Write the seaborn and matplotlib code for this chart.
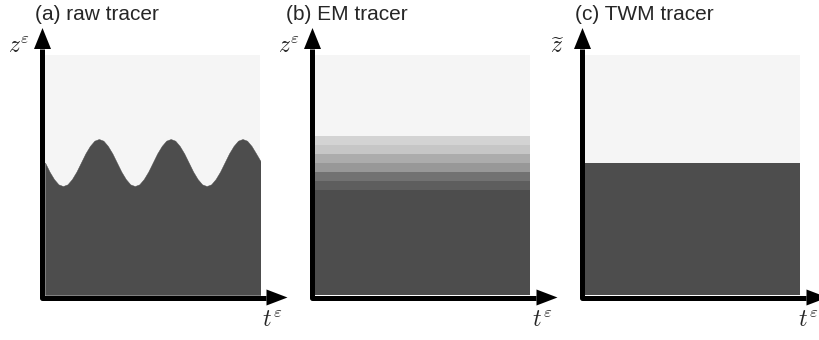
import numpy as np
import matplotlib
matplotlib.use("Agg")
import matplotlib.pyplot as plt
from matplotlib.patches import Polygon
import seaborn as sns

# ---------------- data ----------------
titles = ["(a) raw tracer", "(b) EM tracer", "(c) TWM tracer"]
ylabels = [r"$z^{\varepsilon}$", r"$z^{\varepsilon}$", r"$\widetilde{z}$"]
xlabels = [r"$t^{\varepsilon}$", r"$t^{\varepsilon}$", r"$t^{\varepsilon}$"]

# (a) raw tracer: interface height read along time (t, z in [0, 1])
wave_t = np.linspace(0.0, 1.0, 49)
wave_z = [0.552, 0.514, 0.483, 0.461, 0.454, 0.461, 0.483, 0.514,
          0.552, 0.590, 0.621, 0.643, 0.650, 0.643, 0.621, 0.590,
          0.552, 0.514, 0.483, 0.461, 0.454, 0.461, 0.483, 0.514,
          0.552, 0.590, 0.621, 0.643, 0.650, 0.643, 0.621, 0.590,
          0.552, 0.514, 0.483, 0.461, 0.454, 0.461, 0.483, 0.514,
          0.552, 0.590, 0.621, 0.643, 0.650, 0.643, 0.621, 0.590,
          0.558]

# (b) EM tracer: horizontal bands (lower edge, upper edge, grey colour)
em_lower = [0.0, 0.4375, 0.475, 0.5125, 0.55, 0.5875, 0.625, 0.6625]
em_upper = [0.4375, 0.475, 0.5125, 0.55, 0.5875, 0.625, 0.6625, 1.0]
em_colors = ["#4d4d4d", "#5e5e5e", "#727272", "#989898", "#acacac",
             "#c6c6c6", "#d3d3d3", "#f5f5f5"]

# (c) TWM tracer: flat interface
twm_z = 0.551

DARK = "#4d4d4d"
LIGHT = "#f5f5f5"

# ---------------- style ----------------
sns.set_style("white")
plt.rcParams["font.family"] = ["Liberation Sans", "DejaVu Sans"]
plt.rcParams["mathtext.fontset"] = "cm"

W, H = 820, 340
fig = plt.figure(figsize=(W / 100, H / 100), dpi=100)
fig.patch.set_facecolor("white")

axis_x = [42.5, 312.5, 582.5]
title_x = [35, 286, 575]
ylab_off = [12.5, 12.5, 17.5]
tlab_off = [219.5, 219.5, 216.0]
TOP, BOT = 55.0, 295.0
FW = 215.5

for i in range(3):
    ax0 = axis_x[i]
    left = ax0 + 2.5
    ax = fig.add_axes([left / W, (H - BOT) / H, FW / W, (BOT - TOP) / H])
    ax.set_xlim(0, 1)
    ax.set_ylim(0, 1)
    ax.axis("off")

    def tx(px, left=left):
        return (px - left) / FW

    def tz(py):
        return (BOT - py) / (BOT - TOP)

    if i == 0:
        ax.fill_between([0, 1], 0, 1, color=LIGHT, lw=0)
        ax.fill_between(wave_t, 0, wave_z, facecolor=DARK, edgecolor=DARK,
                        lw=0.3)
    elif i == 1:
        heights = [u - l for l, u in zip(em_lower, em_upper)]
        sns.despine(ax=ax, left=True, bottom=True)
        ax.bar([0.5] * len(heights), heights, width=1.0, bottom=em_lower,
               color=em_colors, lw=0)
    else:
        ax.fill_between([0, 1], 0, 1, color=LIGHT, lw=0)
        ax.fill_between([0, 1], 0, twm_z, color=DARK, lw=0)
    ax.set_xlim(0, 1)
    ax.set_ylim(0, 1)

    # axes with arrows
    lw_pt = 5 * 72 / 100
    ax.plot([tx(ax0), tx(ax0), tx(ax0 + 224)],
            [tz(49), tz(297.5), tz(297.5)], color="black", lw=lw_pt,
            solid_joinstyle="round", solid_capstyle="butt", clip_on=False)
    ytri = [(tx(ax0 - 8.5), tz(49)), (tx(ax0 + 8.5), tz(49)), (tx(ax0), tz(28))]
    xtri = [(tx(ax0 + 224), tz(289.5)), (tx(ax0 + 224), tz(305.5)),
            (tx(ax0 + 245), tz(297.5))]
    for tri in (ytri, xtri):
        ax.add_patch(Polygon(tri, closed=True, color="black", lw=0,
                             clip_on=False))

    # labels
    ax.text(tx(ax0 - ylab_off[i]), tz(53), ylabels[i], ha="right",
            va="baseline", fontsize=17, clip_on=False)
    ax.text(tx(ax0 + tlab_off[i]), tz(327), xlabels[i], ha="left",
            va="baseline", fontsize=17, clip_on=False)
    ax.text(tx(title_x[i]), tz(20), titles[i], ha="left", va="baseline",
            fontsize=15, clip_on=False)

fig.savefig("out.png", dpi=100)
